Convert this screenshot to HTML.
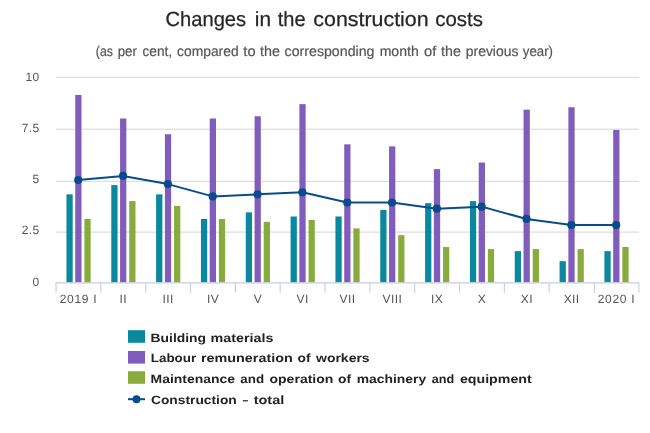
<!DOCTYPE html>
<html><head><meta charset="utf-8"><title>Changes in the construction costs</title>
<style>
html,body{margin:0;padding:0;background:#fff;}
svg{display:block;will-change:transform;text-rendering:geometricPrecision;font-family:"Liberation Sans",sans-serif;}
.ax{font-size:12px;fill:#555555;letter-spacing:0.4px;}
.lg{font-size:12px;font-weight:bold;fill:#2b2b2b;}
</style></head><body>
<svg width="650" height="433" viewBox="0 0 650 433">
<rect x="0" y="0" width="650" height="433" fill="#ffffff"/>
<text x="165.48" y="25.8" font-size="20.5px" font-weight="normal" fill="#262626" stroke="#262626" stroke-width="0.25" textLength="80.66" lengthAdjust="spacingAndGlyphs">Changes</text>
<text x="254.88" y="25.8" font-size="20.5px" font-weight="normal" fill="#262626" stroke="#262626" stroke-width="0.25" textLength="16.24" lengthAdjust="spacingAndGlyphs">in</text>
<text x="277.77" y="25.8" font-size="20.5px" font-weight="normal" fill="#262626" stroke="#262626" stroke-width="0.25" textLength="27.82" lengthAdjust="spacingAndGlyphs">the</text>
<text x="313.31" y="25.8" font-size="20.5px" font-weight="normal" fill="#262626" stroke="#262626" stroke-width="0.25" textLength="115.38" lengthAdjust="spacingAndGlyphs">construction</text>
<text x="435.30" y="25.8" font-size="20.5px" font-weight="normal" fill="#262626" stroke="#262626" stroke-width="0.25" textLength="47.60" lengthAdjust="spacingAndGlyphs">costs</text>
<text x="95.87" y="56.4" font-size="14.2px" font-weight="normal" fill="#555555" stroke="#555555" stroke-width="0.2" textLength="17.03" lengthAdjust="spacingAndGlyphs">(as</text>
<text x="117.68" y="56.4" font-size="14.2px" font-weight="normal" fill="#555555" stroke="#555555" stroke-width="0.2" textLength="19.14" lengthAdjust="spacingAndGlyphs">per</text>
<text x="142.52" y="56.4" font-size="14.2px" font-weight="normal" fill="#555555" stroke="#555555" stroke-width="0.2" textLength="29.56" lengthAdjust="spacingAndGlyphs">cent,</text>
<text x="177.10" y="56.4" font-size="14.2px" font-weight="normal" fill="#555555" stroke="#555555" stroke-width="0.2" textLength="61.53" lengthAdjust="spacingAndGlyphs">compared</text>
<text x="243.33" y="56.4" font-size="14.2px" font-weight="normal" fill="#555555" stroke="#555555" stroke-width="0.2" textLength="12.23" lengthAdjust="spacingAndGlyphs">to</text>
<text x="260.08" y="56.4" font-size="14.2px" font-weight="normal" fill="#555555" stroke="#555555" stroke-width="0.2" textLength="19.92" lengthAdjust="spacingAndGlyphs">the</text>
<text x="284.61" y="56.4" font-size="14.2px" font-weight="normal" fill="#555555" stroke="#555555" stroke-width="0.2" textLength="89.82" lengthAdjust="spacingAndGlyphs">corresponding</text>
<text x="379.65" y="56.4" font-size="14.2px" font-weight="normal" fill="#555555" stroke="#555555" stroke-width="0.2" textLength="39.11" lengthAdjust="spacingAndGlyphs">month</text>
<text x="424.07" y="56.4" font-size="14.2px" font-weight="normal" fill="#555555" stroke="#555555" stroke-width="0.2" textLength="12.28" lengthAdjust="spacingAndGlyphs">of</text>
<text x="441.08" y="56.4" font-size="14.2px" font-weight="normal" fill="#555555" stroke="#555555" stroke-width="0.2" textLength="19.74" lengthAdjust="spacingAndGlyphs">the</text>
<text x="465.74" y="56.4" font-size="14.2px" font-weight="normal" fill="#555555" stroke="#555555" stroke-width="0.2" textLength="52.69" lengthAdjust="spacingAndGlyphs">previous</text>
<text x="522.87" y="56.4" font-size="14.2px" font-weight="normal" fill="#555555" stroke="#555555" stroke-width="0.2" textLength="30.12" lengthAdjust="spacingAndGlyphs">year)</text>
<line x1="56" x2="639" y1="77.35" y2="77.35" stroke="#d6d6d6" stroke-width="1"/>
<line x1="56" x2="639" y1="129.2" y2="129.2" stroke="#d6d6d6" stroke-width="1"/>
<line x1="56" x2="639" y1="181.3" y2="181.3" stroke="#d6d6d6" stroke-width="1"/>
<line x1="56" x2="639" y1="232.1" y2="232.1" stroke="#d6d6d6" stroke-width="1"/>
<text class="ax" x="39.6" y="81.1" text-anchor="end">10</text>
<text class="ax" x="39.6" y="132.3" text-anchor="end">7.5</text>
<text class="ax" x="39.6" y="182.9" text-anchor="end">5</text>
<text class="ax" x="39.6" y="234.1" text-anchor="end">2.5</text>
<text class="ax" x="39.6" y="285.9" text-anchor="end">0</text>
<rect x="66.45" y="194.35" width="6.25" height="88.05" fill="#0a889e"/>
<rect x="75.25" y="94.92" width="6.25" height="187.47" fill="#805cbc"/>
<rect x="84.40" y="218.95" width="6.25" height="63.45" fill="#88ac3c"/>
<rect x="111.28" y="185.12" width="6.25" height="97.27" fill="#0a889e"/>
<rect x="120.08" y="118.50" width="6.25" height="163.90" fill="#805cbc"/>
<rect x="129.23" y="201.12" width="6.25" height="81.28" fill="#88ac3c"/>
<rect x="156.11" y="194.35" width="6.25" height="88.05" fill="#0a889e"/>
<rect x="164.91" y="134.28" width="6.25" height="148.11" fill="#805cbc"/>
<rect x="174.06" y="205.83" width="6.25" height="76.57" fill="#88ac3c"/>
<rect x="200.94" y="218.95" width="6.25" height="63.45" fill="#0a889e"/>
<rect x="209.74" y="118.50" width="6.25" height="163.90" fill="#805cbc"/>
<rect x="218.89" y="218.95" width="6.25" height="63.45" fill="#88ac3c"/>
<rect x="245.77" y="212.39" width="6.25" height="70.01" fill="#0a889e"/>
<rect x="254.57" y="116.25" width="6.25" height="166.15" fill="#805cbc"/>
<rect x="263.72" y="221.82" width="6.25" height="60.58" fill="#88ac3c"/>
<rect x="290.60" y="216.49" width="6.25" height="65.91" fill="#0a889e"/>
<rect x="299.40" y="104.15" width="6.25" height="178.25" fill="#805cbc"/>
<rect x="308.55" y="219.97" width="6.25" height="62.42" fill="#88ac3c"/>
<rect x="335.43" y="216.49" width="6.25" height="65.91" fill="#0a889e"/>
<rect x="344.23" y="144.33" width="6.25" height="138.07" fill="#805cbc"/>
<rect x="353.38" y="228.38" width="6.25" height="54.02" fill="#88ac3c"/>
<rect x="380.26" y="209.93" width="6.25" height="72.47" fill="#0a889e"/>
<rect x="389.06" y="146.38" width="6.25" height="136.02" fill="#805cbc"/>
<rect x="398.21" y="235.14" width="6.25" height="47.25" fill="#88ac3c"/>
<rect x="425.09" y="203.16" width="6.25" height="79.23" fill="#0a889e"/>
<rect x="433.89" y="169.13" width="6.25" height="113.26" fill="#805cbc"/>
<rect x="443.04" y="247.03" width="6.25" height="35.36" fill="#88ac3c"/>
<rect x="469.92" y="201.12" width="6.25" height="81.28" fill="#0a889e"/>
<rect x="478.72" y="162.57" width="6.25" height="119.82" fill="#805cbc"/>
<rect x="487.87" y="249.09" width="6.25" height="33.31" fill="#88ac3c"/>
<rect x="514.75" y="251.13" width="6.25" height="31.26" fill="#0a889e"/>
<rect x="523.55" y="109.69" width="6.25" height="172.71" fill="#805cbc"/>
<rect x="532.70" y="249.09" width="6.25" height="33.31" fill="#88ac3c"/>
<rect x="559.58" y="261.18" width="6.25" height="21.22" fill="#0a889e"/>
<rect x="568.38" y="107.22" width="6.25" height="175.17" fill="#805cbc"/>
<rect x="577.53" y="249.09" width="6.25" height="33.31" fill="#88ac3c"/>
<rect x="604.41" y="251.13" width="6.25" height="31.26" fill="#0a889e"/>
<rect x="613.21" y="129.98" width="6.25" height="152.42" fill="#805cbc"/>
<rect x="622.36" y="247.03" width="6.25" height="35.36" fill="#88ac3c"/>
<line x1="55.3" x2="639.1" y1="282.9" y2="282.9" stroke="#c5cde0" stroke-width="1.1"/>
<line x1="56.05" x2="56.05" y1="282.9" y2="292.7" stroke="#c5cde0" stroke-width="1.1"/>
<line x1="100.88" x2="100.88" y1="282.9" y2="292.7" stroke="#c5cde0" stroke-width="1.1"/>
<line x1="145.71" x2="145.71" y1="282.9" y2="292.7" stroke="#c5cde0" stroke-width="1.1"/>
<line x1="190.54" x2="190.54" y1="282.9" y2="292.7" stroke="#c5cde0" stroke-width="1.1"/>
<line x1="235.37" x2="235.37" y1="282.9" y2="292.7" stroke="#c5cde0" stroke-width="1.1"/>
<line x1="280.20" x2="280.20" y1="282.9" y2="292.7" stroke="#c5cde0" stroke-width="1.1"/>
<line x1="325.03" x2="325.03" y1="282.9" y2="292.7" stroke="#c5cde0" stroke-width="1.1"/>
<line x1="369.87" x2="369.87" y1="282.9" y2="292.7" stroke="#c5cde0" stroke-width="1.1"/>
<line x1="414.70" x2="414.70" y1="282.9" y2="292.7" stroke="#c5cde0" stroke-width="1.1"/>
<line x1="459.53" x2="459.53" y1="282.9" y2="292.7" stroke="#c5cde0" stroke-width="1.1"/>
<line x1="504.36" x2="504.36" y1="282.9" y2="292.7" stroke="#c5cde0" stroke-width="1.1"/>
<line x1="549.19" x2="549.19" y1="282.9" y2="292.7" stroke="#c5cde0" stroke-width="1.1"/>
<line x1="594.40" x2="594.40" y1="282.9" y2="292.7" stroke="#c5cde0" stroke-width="1.1"/>
<line x1="638.85" x2="638.85" y1="282.9" y2="292.7" stroke="#c5cde0" stroke-width="1.1"/>
<text class="ax" x="78.52" y="303" text-anchor="middle" style="letter-spacing:0.7px">2019 I</text>
<text class="ax" x="123.35" y="303" text-anchor="middle">II</text>
<text class="ax" x="168.18" y="303" text-anchor="middle">III</text>
<text class="ax" x="213.01" y="303" text-anchor="middle">IV</text>
<text class="ax" x="257.84" y="303" text-anchor="middle">V</text>
<text class="ax" x="302.67" y="303" text-anchor="middle">VI</text>
<text class="ax" x="347.50" y="303" text-anchor="middle">VII</text>
<text class="ax" x="392.33" y="303" text-anchor="middle">VIII</text>
<text class="ax" x="437.16" y="303" text-anchor="middle">IX</text>
<text class="ax" x="481.99" y="303" text-anchor="middle">X</text>
<text class="ax" x="526.82" y="303" text-anchor="middle">XI</text>
<text class="ax" x="571.65" y="303" text-anchor="middle">XII</text>
<text class="ax" x="616.48" y="303" text-anchor="middle" style="letter-spacing:0.7px">2020 I</text>
<polyline points="78.22,180.00 123.05,175.90 167.88,184.10 212.71,196.40 257.54,194.35 302.37,192.30 347.20,202.55 392.03,202.55 436.86,208.70 481.69,206.65 526.52,218.95 571.35,225.10 616.18,225.10" fill="none" stroke="#084c8e" stroke-width="2" stroke-linejoin="round" stroke-linecap="round"/>
<circle cx="78.22" cy="180.00" r="4.1" fill="#084c8e"/>
<circle cx="123.05" cy="175.90" r="4.1" fill="#084c8e"/>
<circle cx="167.88" cy="184.10" r="4.1" fill="#084c8e"/>
<circle cx="212.71" cy="196.40" r="4.1" fill="#084c8e"/>
<circle cx="257.54" cy="194.35" r="4.1" fill="#084c8e"/>
<circle cx="302.37" cy="192.30" r="4.1" fill="#084c8e"/>
<circle cx="347.20" cy="202.55" r="4.1" fill="#084c8e"/>
<circle cx="392.03" cy="202.55" r="4.1" fill="#084c8e"/>
<circle cx="436.86" cy="208.70" r="4.1" fill="#084c8e"/>
<circle cx="481.69" cy="206.65" r="4.1" fill="#084c8e"/>
<circle cx="526.52" cy="218.95" r="4.1" fill="#084c8e"/>
<circle cx="571.35" cy="225.10" r="4.1" fill="#084c8e"/>
<circle cx="616.18" cy="225.10" r="4.1" fill="#084c8e"/>
<rect x="128" y="330.2" width="17" height="12.6" fill="#0a889e"/>
<rect x="128" y="351" width="17" height="12.6" fill="#805cbc"/>
<rect x="128" y="371.2" width="17" height="12.6" fill="#88ac3c"/>
<line x1="128" x2="145" y1="399.2" y2="399.2" stroke="#084c8e" stroke-width="2"/>
<circle cx="136.5" cy="399.2" r="4" fill="#084c8e"/>
<text x="150.62" y="341.9" font-size="12.0px" font-weight="bold" fill="#222222" stroke="#222222" stroke-width="0.0" textLength="55.45" lengthAdjust="spacingAndGlyphs">Building</text>
<text x="210.56" y="341.9" font-size="12.0px" font-weight="bold" fill="#222222" stroke="#222222" stroke-width="0.0" textLength="63.00" lengthAdjust="spacingAndGlyphs">materials</text>
<text x="150.76" y="362.4" font-size="12.0px" font-weight="bold" fill="#222222" stroke="#222222" stroke-width="0.0" textLength="45.45" lengthAdjust="spacingAndGlyphs">Labour</text>
<text x="201.00" y="362.4" font-size="12.0px" font-weight="bold" fill="#222222" stroke="#222222" stroke-width="0.0" textLength="91.73" lengthAdjust="spacingAndGlyphs">remuneration</text>
<text x="297.52" y="362.4" font-size="12.0px" font-weight="bold" fill="#222222" stroke="#222222" stroke-width="0.0" textLength="13.07" lengthAdjust="spacingAndGlyphs">of</text>
<text x="316.00" y="362.4" font-size="12.0px" font-weight="bold" fill="#222222" stroke="#222222" stroke-width="0.0" textLength="53.66" lengthAdjust="spacingAndGlyphs">workers</text>
<text x="150.60" y="382.9" font-size="12.0px" font-weight="bold" fill="#222222" stroke="#222222" stroke-width="0.0" textLength="84.41" lengthAdjust="spacingAndGlyphs">Maintenance</text>
<text x="240.36" y="382.9" font-size="12.0px" font-weight="bold" fill="#222222" stroke="#222222" stroke-width="0.0" textLength="23.78" lengthAdjust="spacingAndGlyphs">and</text>
<text x="269.51" y="382.9" font-size="12.0px" font-weight="bold" fill="#222222" stroke="#222222" stroke-width="0.0" textLength="63.87" lengthAdjust="spacingAndGlyphs">operation</text>
<text x="338.00" y="382.9" font-size="12.0px" font-weight="bold" fill="#222222" stroke="#222222" stroke-width="0.0" textLength="13.09" lengthAdjust="spacingAndGlyphs">of</text>
<text x="356.79" y="382.9" font-size="12.0px" font-weight="bold" fill="#222222" stroke="#222222" stroke-width="0.0" textLength="69.36" lengthAdjust="spacingAndGlyphs">machinery</text>
<text x="431.72" y="382.9" font-size="12.0px" font-weight="bold" fill="#222222" stroke="#222222" stroke-width="0.0" textLength="22.50" lengthAdjust="spacingAndGlyphs">and</text>
<text x="459.98" y="382.9" font-size="12.0px" font-weight="bold" fill="#222222" stroke="#222222" stroke-width="0.0" textLength="71.69" lengthAdjust="spacingAndGlyphs">equipment</text>
<text x="151.01" y="403.5" font-size="12.0px" font-weight="bold" fill="#222222" stroke="#222222" stroke-width="0.0" textLength="85.73" lengthAdjust="spacingAndGlyphs">Construction</text>
<text x="242.57" y="403.5" font-size="12.0px" font-weight="bold" fill="#222222" stroke="#222222" stroke-width="0.0" textLength="5.79" lengthAdjust="spacingAndGlyphs">–</text>
<text x="253.66" y="403.5" font-size="12.0px" font-weight="bold" fill="#222222" stroke="#222222" stroke-width="0.0" textLength="30.65" lengthAdjust="spacingAndGlyphs">total</text>
</svg>
</body></html>
